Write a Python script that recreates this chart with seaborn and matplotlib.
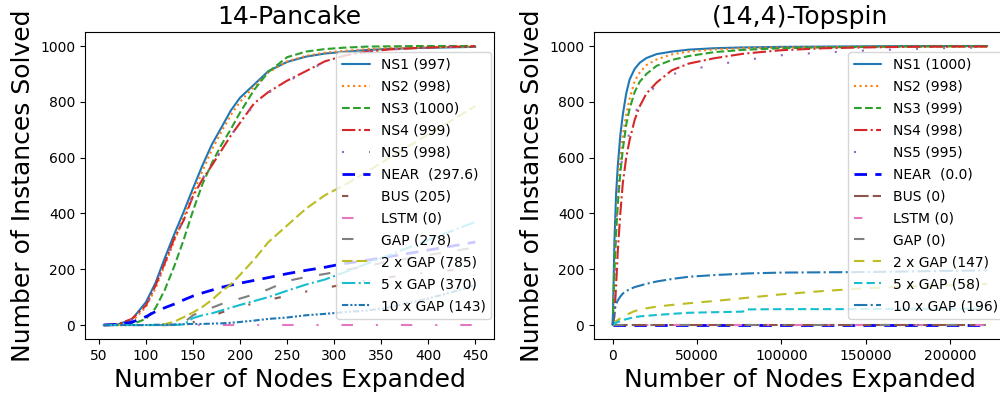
import matplotlib
matplotlib.use("Agg")
import matplotlib.pyplot as plt
import seaborn as sns

sns.set_style("ticks", {"axes.edgecolor": "black", "text.color": "black",
                        "xtick.color": "black", "ytick.color": "black",
                        "axes.labelcolor": "black"})
plt.rcParams["font.family"] = ["DejaVu Sans"]
plt.rcParams["xtick.major.size"] = 3.5
plt.rcParams["ytick.major.size"] = 3.5

# ---- 14-Pancake data (nodes expanded vs instances solved) ----
pancake_nodes = [55, 70, 85, 100, 110, 120, 130, 140, 150, 160, 170, 180, 190,
                 200, 215, 230, 250, 270, 290, 310, 335, 360, 390, 420, 450]
pancake_ns1 = [0, 2, 20, 82, 150, 240, 325, 405, 490, 572, 647, 707, 768,
               815, 862, 910, 943, 962, 973, 979, 986, 990, 993, 995, 997]
pancake_ns2 = [0, 1, 12, 65, 130, 215, 300, 385, 470, 552, 628, 692, 752,
               800, 855, 905, 945, 965, 976, 983, 989, 993, 995, 997, 998]
pancake_ns3 = [0, 0, 3, 22, 60, 126, 210, 305, 410, 505, 580, 645, 701,
               762, 843, 907, 960, 980, 989, 994, 998, 999, 1000, 1000, 1000]
pancake_ns4 = [0, 3, 22, 70, 140, 222, 310, 375, 462, 522, 572, 625, 678,
               725, 795, 835, 876, 910, 945, 965, 980, 988, 993, 997, 999]
pancake_ns5 = [0, 2, 20, 68, 138, 220, 312, 378, 465, 525, 575, 628, 680,
               722, 790, 832, 872, 908, 942, 963, 978, 987, 992, 996, 998]
pancake_near = [0, 2, 10, 30, 48, 62, 75, 90, 104, 115, 125, 135, 143,
                150, 160, 170, 184, 196, 207, 220, 232, 246, 263, 280, 297.6]
pancake_bus = [0, 0, 0, 0, 0, 0, 0, 0, 10, 20, 30, 45, 55,
               65, 78, 90, 105, 120, 133, 145, 160, 172, 185, 195, 205]
pancake_lstm = [0] * 25
pancake_gap = [0, 0, 0, 0, 0, 0, 2, 8, 35, 50, 62, 75, 85,
               95, 110, 128, 158, 172, 183, 196, 212, 228, 245, 262, 278]
pancake_gap2 = [0, 0, 0, 0, 0, 3, 12, 28, 45, 65, 90, 120, 145,
                180, 235, 297, 357, 417, 465, 500, 550, 602, 663, 724, 785]
pancake_gap5 = [0, 0, 0, 0, 0, 0, 0, 2, 25, 35, 42, 52, 62,
                72, 86, 100, 123, 145, 163, 188, 220, 253, 292, 331, 370]
pancake_gap10 = [0, 0, 0, 0, 1, 1, 2, 3, 4, 4, 5, 6, 8,
                 11, 16, 22, 27, 35, 40, 46, 52, 64, 87, 113, 143]

# ---- (14,4)-Topspin data ----
topspin_nodes = [0, 1000, 2000, 3000, 4500, 6000, 8000, 10000, 13000, 16000,
                 20000, 26000, 35000, 45000, 60000, 77000, 80000, 100000,
                 125000, 150000, 175000, 200000, 222000]
topspin_ns1 = [0, 300, 470, 570, 680, 755, 830, 880, 918, 940, 957, 971, 980,
               987, 992, 995, 995, 997, 998, 999, 1000, 1000, 1000]
topspin_ns2 = [0, 190, 350, 460, 600, 680, 755, 810, 875, 905, 932, 952, 970,
               980, 988, 992, 993, 995, 996, 997, 998, 998, 998]
topspin_ns3 = [0, 190, 330, 430, 545, 630, 718, 775, 835, 872, 900, 929, 950,
               964, 978, 986, 987, 992, 995, 997, 998, 999, 999]
topspin_ns4 = [0, 30, 140, 265, 400, 510, 600, 663, 735, 784, 830, 869, 913,
               937, 956, 972, 974, 985, 992, 995, 997, 998, 998]
topspin_ns5 = [0, 150, 340, 470, 560, 608, 650, 690, 755, 797, 825, 858, 898,
               915, 931, 949, 951, 967, 977, 984, 989, 993, 995]
topspin_near = [0] * 23
topspin_bus = [0] * 23
topspin_lstm = [0] * 23
topspin_gap = [0] * 23
topspin_gap2 = [0, 8, 14, 18, 24, 30, 36, 42, 50, 55, 60, 66, 72,
                78, 86, 96, 98, 110, 122, 132, 138, 143, 147]
topspin_gap5 = [0, 5, 8, 11, 14, 18, 21, 24, 28, 31, 33, 36, 40,
                44, 46, 48, 56, 57, 57, 57, 58, 58, 58]
topspin_gap10 = [0, 50, 75, 88, 102, 113, 122, 128, 136, 141, 148, 156, 165,
                 173, 179, 184, 185, 188, 189, 190, 192, 194, 196]

pancake_labels = ["NS1 (997)", "NS2 (998)", "NS3 (1000)", "NS4 (999)", "NS5 (998)",
                  "NEAR  (297.6)", "BUS (205)", "LSTM (0)", "GAP (278)",
                  "2 x GAP (785)", "5 x GAP (370)", "10 x GAP (143)"]
topspin_labels = ["NS1 (1000)", "NS2 (998)", "NS3 (999)", "NS4 (998)", "NS5 (995)",
                  "NEAR  (0.0)", "BUS (0)", "LSTM (0)", "GAP (0)",
                  "2 x GAP (147)", "5 x GAP (58)", "10 x GAP (196)"]

colors = ["tab:blue", "tab:orange", "tab:green", "tab:red", "tab:purple", "blue",
          "tab:brown", "tab:pink", "tab:gray", "tab:olive", "tab:cyan", "tab:blue"]

pancake_styles = ["-", ":", "--", "-.", (0, (1, 12)), (0, (4.5, 3)),
                  (0, (3, 12, 1, 12)), (0, (5.5, 11, 1, 11)), (0, (5.5, 8)),
                  (0, (5, 2)), "-.", (0, (3, 1, 1, 1, 1, 1))]
topspin_styles = ["-", ":", "--", "-.", (0, (1, 12)), (0, (4.5, 3)),
                  (0, (7, 2)), (0, (4, 12, 1, 12)), (0, (5, 13, 1, 13)),
                  (0, (5, 4)), (0, (4, 2)), "-."]

pancake_series = [pancake_ns1, pancake_ns2, pancake_ns3, pancake_ns4, pancake_ns5,
                  pancake_near, pancake_bus, pancake_lstm, pancake_gap,
                  pancake_gap2, pancake_gap5, pancake_gap10]
topspin_series = [topspin_ns1, topspin_ns2, topspin_ns3, topspin_ns4, topspin_ns5,
                  topspin_near, topspin_bus, topspin_lstm, topspin_gap,
                  topspin_gap2, topspin_gap5, topspin_gap10]

fig = plt.figure(figsize=(10, 3.95), dpi=100)
ax1 = fig.add_axes([0.085, 0.1418, 0.409, 0.777])
ax2 = fig.add_axes([0.594, 0.1418, 0.412, 0.777])

panels = [
    (ax1, pancake_nodes, pancake_series, pancake_labels, pancake_styles, "14-Pancake"),
    (ax2, topspin_nodes, topspin_series, topspin_labels, topspin_styles, "(14,4)-Topspin"),
]

for ax, xs, series, labels, styles, title in panels:
    for ys, lab, col, ls in zip(series, labels, colors, styles):
        lw = 2 if lab.startswith("NEAR") else 1.5
        sns.lineplot(x=xs, y=ys, ax=ax, color=col, linestyle=ls, linewidth=lw,
                     label=lab)
    ax.set_title(title, fontsize=18)
    ax.set_xlabel("Number of Nodes Expanded", fontsize=18)
    ax.set_ylabel("Number of Instances Solved", fontsize=18)
    ax.tick_params(labelsize=10)
    ax.set_yticks([0, 200, 400, 600, 800, 1000])
    ax.legend(loc="center right", fontsize=10, borderaxespad=0.2,
              labelspacing=0.57, frameon=True, framealpha=0.8)

ax1.set_xticks([50, 100, 150, 200, 250, 300, 350, 400, 450])
ax2.set_xticks([0, 50000, 100000, 150000, 200000])

fig.savefig("out.png", dpi=100)
